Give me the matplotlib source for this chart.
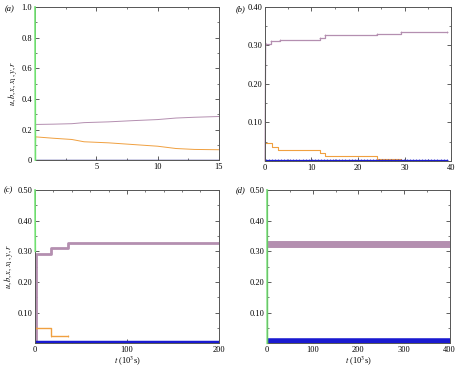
import matplotlib
matplotlib.use("Agg")
import matplotlib.pyplot as plt
from matplotlib.ticker import MultipleLocator, FixedLocator
import numpy as np

plt.rcParams['font.family'] = ['Liberation Serif', 'DejaVu Serif']
plt.rcParams['mathtext.fontset'] = 'stix'

# ---- data (time in 10^3 s) ----
# panel (a)
a_t_purple = [0, 0.05, 1.5, 3, 4, 6, 8, 10, 11.5, 13, 15]
a_purple = [0.0, 0.233, 0.235, 0.238, 0.245, 0.25, 0.258, 0.265, 0.275, 0.28, 0.285]
a_t_orange = [0, 0.05, 1.5, 3, 4, 6, 8, 10, 11.5, 13, 15]
a_orange = [0.0, 0.152, 0.143, 0.135, 0.12, 0.113, 0.102, 0.091, 0.076, 0.07, 0.068]
a_t_blue = [0, 15]
a_blue = [0.004, 0.004]
a_t_green = [0, 0.03]
a_green = [1.0, 0.0]

# panel (b)
b_t_purple = [0.2, 1.4, 3.2, 11.8, 12.9, 24, 29.3, 39]
b_purple = [0.305, 0.311, 0.315, 0.320, 0.3266, 0.3307, 0.334, 0.334]
b_t_orange = [0.2, 1.6, 2.9, 11.8, 12.9, 24, 29.3]
b_orange = [0.046, 0.037, 0.027, 0.020, 0.013, 0.004, 0.004]
b_t_blue = [0.2, 39]
b_blue = [0.002, 0.002]

# panel (c)
c_t_purple = [0, 1, 17.4, 36, 200]
c_purple = [0.0, 0.29, 0.31, 0.328, 0.328]
c_t_orange = [1, 17.4, 36]
c_orange = [0.051, 0.022, 0.022]
c_t_blue = [0, 200]
c_blue = [0.004, 0.004]
c_t_green = [0, 0.3]
c_green = [0.5, 0.30]

# panel (d)
d_t_purple = [0, 400]
d_purple = [0.324, 0.324]
d_t_blue = [0, 400]
d_blue = [0.007, 0.007]
d_t_green = [0, 0.5]
d_green = [0.5, 0.0]

PURPLE = '#b48fb0'
ORANGE = '#f0a040'
BLUE = '#1a1ad0'
DBLUE = '#101080'
GREEN = '#70e070'
FS = 6

fig = plt.figure(figsize=(4.55, 3.69), dpi=100)

def style(ax, xlim, ylim, xmin, ymin, yticks, xticks, ylabfmt):
    ax.set_xlim(*xlim)
    ax.set_ylim(*ylim)
    ax.xaxis.set_major_locator(FixedLocator(xticks))
    ax.xaxis.set_minor_locator(MultipleLocator(xmin))
    ax.yaxis.set_major_locator(FixedLocator(yticks))
    ax.yaxis.set_minor_locator(MultipleLocator(ymin))
    ax.set_yticklabels([ylabfmt(v) for v in yticks])
    ax.set_xticklabels([str(int(v)) for v in xticks])
    ax.tick_params(which='both', direction='in', top=True, right=True,
                   labelsize=FS, colors='#444444', labelcolor='black', pad=2)
    ax.tick_params(which='major', length=3, width=0.6)
    ax.tick_params(which='minor', length=1.5, width=0.5)
    for s in ax.spines.values():
        s.set_color('#555555')
        s.set_linewidth(0.7)

ylab = r'$u,b,x,x_1,y,r$'
xlab = r'$t$ (10$^3$s)'

# (a)
ax = fig.add_axes([0.077, 0.566, 0.404, 0.415])
ax.plot(a_t_purple, a_purple, color=PURPLE, lw=0.7)
ax.plot(a_t_orange, a_orange, color=ORANGE, lw=0.7)
ax.plot(a_t_blue, a_blue, color=DBLUE, lw=1.0)
ax.plot(a_t_green, a_green, color=GREEN, lw=1.2, clip_on=False, zorder=5)
style(ax, (0, 15), (0, 1.0), 2.5, 0.1,
      [0, 0.2, 0.4, 0.6, 0.8, 1.0], [5, 10, 15],
      lambda v: '0' if v == 0 else f'{v:.1f}')
ax.set_ylabel(ylab, fontsize=FS, labelpad=2)
fig.text(0.011, 0.975, '(a)', fontsize=FS, style='italic', va='center')

# (b)
ax = fig.add_axes([0.582, 0.564, 0.410, 0.417])
ax.plot([0, 0.2], [0, 0.305], color=PURPLE, lw=1.0, alpha=0.6, clip_on=False)
ax.step(b_t_purple, b_purple, where='post', color=PURPLE, lw=0.9,
        marker='+', ms=1.8, mew=0.5, markevery=1)
ax.step(b_t_orange, b_orange, where='post', color=ORANGE, lw=0.8)
tb = np.linspace(b_t_blue[0], b_t_blue[1], 60)
ax.plot(tb, np.interp(tb, b_t_blue, b_blue), color=BLUE, lw=0.9,
        marker='+', ms=2, mew=0.5)
style(ax, (0, 40), (0, 0.40), 5, 0.05,
      [0.1, 0.2, 0.3, 0.4], [0, 10, 20, 30, 40],
      lambda v: f'{v:.2f}')
fig.text(0.519, 0.975, '(b)', fontsize=FS, style='italic', va='center')

# (c)
ax = fig.add_axes([0.077, 0.070, 0.404, 0.415])
ax.step(c_t_purple, c_purple, where='post', color=PURPLE, lw=2.0)
ax.step(c_t_orange, c_orange, where='post', color=ORANGE, lw=1.0,
        marker='|', ms=2, mew=0.5)
ax.plot(c_t_blue, c_blue, color=BLUE, lw=2.5)
ax.plot(c_t_green, c_green, color=GREEN, lw=1.2, clip_on=False, zorder=5)
style(ax, (0, 200), (0, 0.50), 20, 0.05,
      [0.1, 0.2, 0.3, 0.4, 0.5], [0, 100, 200],
      lambda v: f'{v:.2f}')
ax.set_ylabel(ylab, fontsize=FS, labelpad=2)
ax.set_xlabel(xlab, fontsize=FS, labelpad=1)
fig.text(0.008, 0.485, '(c)', fontsize=FS, style='italic', va='center')

# (d)
ax = fig.add_axes([0.587, 0.070, 0.401, 0.415])
ax.plot(d_t_purple, d_purple, color=PURPLE, lw=5.0)
ax.plot(d_t_blue, d_blue, color=BLUE, lw=4.0)
ax.plot(d_t_green, d_green, color=GREEN, lw=1.5, alpha=0.8, clip_on=False, zorder=5)
style(ax, (0, 400), (0, 0.50), 50, 0.05,
      [0.1, 0.2, 0.3, 0.4, 0.5], [0, 100, 200, 300, 400],
      lambda v: f'{v:.2f}')
ax.set_xlabel(xlab, fontsize=FS, labelpad=1)
fig.text(0.518, 0.485, '(d)', fontsize=FS, style='italic', va='center')

fig.savefig('out.png', dpi=100)
